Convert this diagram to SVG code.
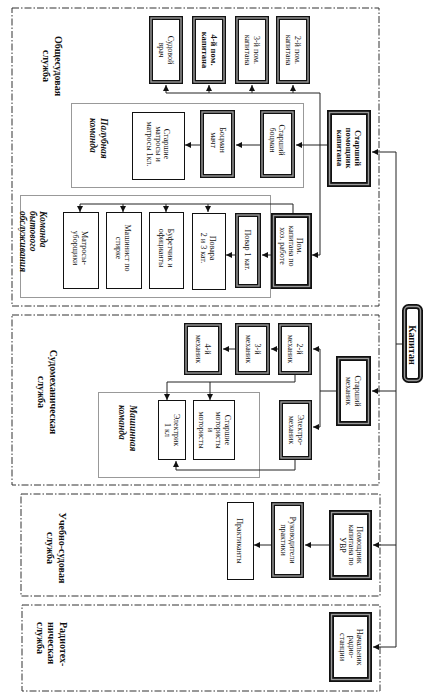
<svg xmlns="http://www.w3.org/2000/svg" width="426" height="699" viewBox="0 0 426 699">
<defs>
<style>
.t{font-family:"Liberation Serif","Times New Roman",serif;font-size:8px;fill:#111}
.b{font-weight:bold}
.i{font-style:italic;font-weight:bold;font-size:9.5px}
.s{font-weight:bold;font-size:10px}
.sec{fill:none;stroke:#333;stroke-width:1;stroke-dasharray:7 2 1.5 2}
.grp{fill:none;stroke:#999;stroke-width:1}
.bx{fill:#fff;stroke:#111;stroke-width:1}
.bo{fill:#fff;stroke:#111;stroke-width:4}
.bh{fill:#fff;stroke:#111;stroke-width:5}
.bi{fill:none;stroke:#999;stroke-width:1.4}
.ln{fill:none;stroke:#222;stroke-width:1}
.ar{fill:none;stroke:#222;stroke-width:1;marker-end:url(#ah)}
</style>
<marker id="ah" markerUnits="userSpaceOnUse" markerWidth="6" markerHeight="6" refX="6" refY="3" orient="auto">
<path d="M0,0 L6,3 L0,6 z" fill="#111"/>
</marker>
</defs>
<rect width="426" height="699" fill="#fff"/>

<g id="sections">
<rect class="sec" x="12" y="8" width="367" height="298"/>
<rect class="sec" x="12" y="315" width="367" height="170"/>
<rect class="sec" x="21" y="494" width="359" height="102"/>
<rect class="sec" x="22" y="605" width="358" height="86"/>
<rect class="grp" x="71.5" y="103.5" width="232" height="84"/>
<rect class="grp" x="20.5" y="195.5" width="250" height="102"/>
<rect class="grp" x="98.5" y="392.5" width="161" height="85"/>
</g>

<g id="section-labels">
<text class="t s" text-anchor="middle" transform="translate(52,66) rotate(90)"><tspan x="0" y="-2.5">Общесудовая</tspan><tspan x="0" dy="12">служба</tspan></text>
<text class="t s" text-anchor="middle" transform="translate(47,392) rotate(90)"><tspan x="0" y="-2.5">Судомеханическая</tspan><tspan x="0" dy="12">служба</tspan></text>
<text class="t s" text-anchor="middle" transform="translate(56,548) rotate(90)"><tspan x="0" y="-2.5">Учебно-судовая</tspan><tspan x="0" dy="12">служба</tspan></text>
<text class="t s" text-anchor="start" transform="translate(51,622) rotate(90)"><tspan x="0" y="-8.5">Радиотех-</tspan><tspan x="0" dy="11.5">ническая</tspan><tspan x="0" dy="11.5">служба</tspan></text>
<text class="t i" text-anchor="start" transform="translate(98,118) rotate(90)"><tspan x="0" y="-2.5">Палубная</tspan><tspan x="0" dy="11">команда</tspan></text>
<text class="t i" text-anchor="start" transform="translate(33,211) rotate(90)"><tspan x="0" y="-7">Команда</tspan><tspan x="0" dy="10">бытового</tspan><tspan x="0" dy="10">обслуживания</tspan></text>
<text class="t i" text-anchor="start" transform="translate(127,405) rotate(90)"><tspan x="0" y="-2.5">Машинная</tspan><tspan x="0" dy="11">команда</tspan></text>
</g>

<g id="connectors">
<path class="ln" d="M403,344 H396 M396,152 V647"/>
<path class="ar" d="M396,152 H372"/>
<path class="ar" d="M396,391 H372"/>
<path class="ar" d="M396,545 H373"/>
<path class="ar" d="M396,647 H373"/>
<path class="ar" d="M327,145 H296"/>
<path class="ln" d="M320,93 V255 M166,93 H320"/>
<path class="ar" d="M166,93 V85"/>
<path class="ar" d="M209,93 V85"/>
<path class="ar" d="M252,93 V85"/>
<path class="ar" d="M293,93 V85"/>
<path class="ar" d="M320,255 H312"/>
<path class="ar" d="M260,145 H236"/>
<path class="ar" d="M200,145 H185"/>
<path class="ar" d="M271,255 H262"/>
<path class="ar" d="M235,255 H226"/>
<path class="ln" d="M293,213 V204 H80"/>
<path class="ar" d="M80,204 V212"/>
<path class="ar" d="M123,204 V212"/>
<path class="ar" d="M166,204 V212"/>
<path class="ar" d="M208,204 V212"/>
<path class="ln" d="M336,391 H320 M320,349 V427"/>
<path class="ar" d="M320,349 H313"/>
<path class="ar" d="M320,427 H313"/>
<path class="ar" d="M278,349 H271"/>
<path class="ar" d="M235,349 H223"/>
<path class="ln" d="M295,375 V382 H167"/>
<path class="ar" d="M167,382 V400"/>
<path class="ar" d="M210,382 V400"/>
<path class="ln" d="M295,460 V470 H176"/>
<path class="ar" d="M176,470 V461"/>
<path class="ar" d="M329,545 H305"/>
<path class="ar" d="M271,545 H254"/>
</g>

<g id="kapitan">
<rect class="bh" x="404.5" y="306.5" width="16" height="74" rx="4"/>
<rect class="bi" x="404.5" y="306.5" width="16" height="74" rx="4"/>
<text class="t b" style="font-size:10px" text-anchor="middle" transform="translate(412.5,345) rotate(90)"><tspan x="0" y="3.5">Капитан</tspan></text>
</g>

<g id="st-pom">
<rect class="bh" x="329.5" y="112.5" width="39" height="72"/>
<rect class="bi" x="329.5" y="112.5" width="39" height="72"/>
<text class="t b" style="font-size:8.5px" text-anchor="middle" transform="translate(349,148) rotate(90)"><tspan x="0" y="-6">Старший</tspan><tspan x="0" dy="9">помощник</tspan><tspan x="0" dy="9">капитана</tspan></text>
</g>

<g id="pom2">
<rect class="bo" x="278" y="18" width="30" height="64"/>
<rect class="bi" x="278" y="18" width="30" height="64"/>
<text class="t" text-anchor="middle" transform="translate(293,50) rotate(90)"><tspan x="0" y="-1.5">2-й пом.</tspan><tspan x="0" dy="8.5">капитана</tspan></text>
</g>
<g id="pom3">
<rect class="bo" x="237" y="18" width="30" height="64"/>
<rect class="bi" x="237" y="18" width="30" height="64"/>
<text class="t" text-anchor="middle" transform="translate(252,50) rotate(90)"><tspan x="0" y="-1.5">3-й пом.</tspan><tspan x="0" dy="8.5">капитана</tspan></text>
</g>
<g id="pom4">
<rect class="bo" x="194" y="18" width="30" height="64"/>
<rect class="bi" x="194" y="18" width="30" height="64"/>
<text class="t b" style="font-size:8.5px" text-anchor="middle" transform="translate(209,50) rotate(90)"><tspan x="0" y="-1.5">4-й пом.</tspan><tspan x="0" dy="9">капитана</tspan></text>
</g>
<g id="vrach">
<rect class="bo" x="151" y="18" width="30" height="64"/>
<rect class="bi" x="151" y="18" width="30" height="64"/>
<text class="t" text-anchor="middle" transform="translate(166,50) rotate(90)"><tspan x="0" y="-1.5">Судовой</tspan><tspan x="0" dy="8.5">врач</tspan></text>
</g>

<g id="st-bocman">
<rect class="bo" x="262" y="112" width="31" height="64"/>
<rect class="bi" x="262" y="112" width="31" height="64"/>
<text class="t" text-anchor="middle" transform="translate(277,140) rotate(90)"><tspan x="0" y="-1.5">Старший</tspan><tspan x="0" dy="8.5">боцман</tspan></text>
</g>
<g id="bocman">
<rect class="bo" x="202" y="112" width="31" height="64"/>
<rect class="bi" x="202" y="112" width="31" height="64"/>
<text class="t" text-anchor="middle" transform="translate(218,140) rotate(90)"><tspan x="0" y="-1.5">Боцман</tspan><tspan x="0" dy="8.5">мачт</tspan></text>
</g>
<g id="matrosy">
<rect class="bx" x="132.5" y="112.5" width="52" height="67"/>
<text class="t" text-anchor="middle" transform="translate(158,144) rotate(90)"><tspan x="0" y="-6">Старшие</tspan><tspan x="0" dy="8.5">матросы и</tspan><tspan x="0" dy="8.5">матросы 1кл.</tspan></text>
</g>

<g id="pom-hoz">
<rect class="bh" x="273.5" y="215.5" width="36" height="71"/>
<rect class="bi" x="273.5" y="215.5" width="36" height="71"/>
<text class="t" text-anchor="middle" transform="translate(291,246) rotate(90)"><tspan x="0" y="-6">Пом.</tspan><tspan x="0" dy="8.5">капитана по</tspan><tspan x="0" dy="8.5">хоз. работе</tspan></text>
</g>
<g id="povar1">
<rect class="bo" x="237" y="215" width="22" height="71"/>
<rect class="bi" x="237" y="215" width="22" height="71"/>
<text class="t" text-anchor="middle" transform="translate(248,250) rotate(90)"><tspan x="0" y="2.8">Повар 1 кат.</tspan></text>
</g>
<g id="povara">
<rect class="bx" x="192.5" y="213.5" width="33" height="76"/>
<text class="t" text-anchor="middle" transform="translate(208,248) rotate(90)"><tspan x="0" y="-1.5">Повара</tspan><tspan x="0" dy="8.5">2 и 3 кат.</tspan></text>
</g>
<g id="bufet">
<rect class="bx" x="149.5" y="212.5" width="34" height="76"/>
<text class="t" text-anchor="middle" transform="translate(166,248) rotate(90)"><tspan x="0" y="-1.5">Буфетчик и</tspan><tspan x="0" dy="8.5">официанты</tspan></text>
</g>
<g id="mashinist">
<rect class="bx" x="106.5" y="212.5" width="35" height="76"/>
<text class="t" text-anchor="middle" transform="translate(123,248) rotate(90)"><tspan x="0" y="-1.5">Машинист по</tspan><tspan x="0" dy="8.5">стирке</tspan></text>
</g>
<g id="uborshiki">
<rect class="bx" x="63.5" y="212.5" width="35" height="76"/>
<text class="t" text-anchor="middle" transform="translate(80,248) rotate(90)"><tspan x="0" y="-1.5">Матросы-</tspan><tspan x="0" dy="8.5">уборщики</tspan></text>
</g>

<g id="st-meh">
<rect class="bh" x="338.5" y="358.5" width="30" height="65"/>
<rect class="bi" x="338.5" y="358.5" width="30" height="65"/>
<text class="t" text-anchor="middle" transform="translate(353,391) rotate(90)"><tspan x="0" y="-1.5">Старший</tspan><tspan x="0" dy="8.5">механик</tspan></text>
</g>
<g id="meh2">
<rect class="bo" x="280" y="325" width="30" height="48"/>
<rect class="bi" x="280" y="325" width="30" height="48"/>
<text class="t" text-anchor="middle" transform="translate(295,349) rotate(90)"><tspan x="0" y="-1.5">2-й</tspan><tspan x="0" dy="8.5">механик</tspan></text>
</g>
<g id="meh3">
<rect class="bo" x="237" y="325" width="31" height="48"/>
<rect class="bi" x="237" y="325" width="31" height="48"/>
<text class="t" text-anchor="middle" transform="translate(253,349) rotate(90)"><tspan x="0" y="-1.5">3-й</tspan><tspan x="0" dy="8.5">механик</tspan></text>
</g>
<g id="meh4">
<rect class="bo" x="186" y="325" width="34" height="48"/>
<rect class="bi" x="186" y="325" width="34" height="48"/>
<text class="t" text-anchor="middle" transform="translate(203,349) rotate(90)"><tspan x="0" y="-1.5">4-й</tspan><tspan x="0" dy="8.5">механик</tspan></text>
</g>
<g id="elmeh">
<rect class="bo" x="281" y="402" width="29" height="56"/>
<rect class="bi" x="281" y="402" width="29" height="56"/>
<text class="t" text-anchor="middle" transform="translate(296,430) rotate(90)"><tspan x="0" y="-1.5">Электро-</tspan><tspan x="0" dy="8.5">механик</tspan></text>
</g>
<g id="motoristy">
<rect class="bx" x="193.5" y="400.5" width="41" height="59"/>
<text class="t" text-anchor="middle" transform="translate(214,430) rotate(90)"><tspan x="0" y="-10.5">Старшие</tspan><tspan x="0" dy="8.5">мотористы</tspan><tspan x="0" dy="8.5">и</tspan><tspan x="0" dy="8.5">мотористы</tspan></text>
</g>
<g id="elektrik">
<rect class="bx" x="158.5" y="400.5" width="27" height="59"/>
<text class="t" text-anchor="middle" transform="translate(172,430) rotate(90)"><tspan x="0" y="-1.5">Электрик</tspan><tspan x="0" dy="8.5">1 кл</tspan></text>
</g>

<g id="pom-uvr">
<rect class="bh" x="331.5" y="512.5" width="38" height="65"/>
<rect class="bi" x="331.5" y="512.5" width="38" height="65"/>
<text class="t" text-anchor="middle" transform="translate(351,545) rotate(90)"><tspan x="0" y="-6">Помощник</tspan><tspan x="0" dy="8.5">капитана по</tspan><tspan x="0" dy="8.5">УВР</tspan></text>
</g>
<g id="rukovoditeli">
<rect class="bo" x="273" y="504" width="29" height="72"/>
<rect class="bi" x="273" y="504" width="29" height="72"/>
<text class="t" text-anchor="middle" transform="translate(288,540) rotate(90)"><tspan x="0" y="-1.5">Руководители</tspan><tspan x="0" dy="8.5">практики</tspan></text>
</g>
<g id="praktikanty">
<rect class="bx" x="227.5" y="502.5" width="26" height="77"/>
<text class="t" text-anchor="middle" transform="translate(240,541) rotate(90)"><tspan x="0" y="2.8">Практиканты</tspan></text>
</g>

<g id="radio">
<rect class="bh" x="331.5" y="614.5" width="38" height="65"/>
<rect class="bi" x="331.5" y="614.5" width="38" height="65"/>
<text class="t" text-anchor="middle" transform="translate(351,647) rotate(90)"><tspan x="0" y="-6">Начальник</tspan><tspan x="0" dy="8.5">радио-</tspan><tspan x="0" dy="8.5">станции</tspan></text>
</g>
</svg>
